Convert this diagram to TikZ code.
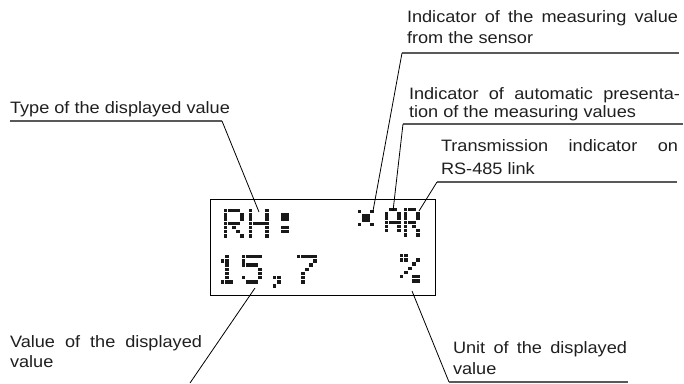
\documentclass[tikz,border=0pt]{standalone}
\usepackage{fontspec}
\setmainfont[FakeStretch=1.1]{Liberation Sans}
\newcommand\lcdg[3]{\foreach \c/\r in {#3}{\fill[lcddot] ({#1+\c*4.1},{#2+\r*4.2}) rectangle ++(3.4,3.4);}}
\begin{document}
\begin{tikzpicture}[x=1pt,y=-1pt,
  lbl/.style={inner sep=0pt, outer sep=0pt, anchor=base west, text=black!88},
  jlbl/.style={lbl, align=justify},
  under/.style={line width=1.2pt, draw=black!65},
  lead/.style={line width=0.8pt, draw=black},
  lcddot/.style={fill=black!90},
  lcdbox/.style={draw=black, line width=1.3pt, inner sep=0pt, minimum width=225pt, minimum height=96pt, anchor=north west}]
\useasboundingbox (0,0) rectangle (684,383);

% display
\node[lcdbox] (lcd) at (210,199) {};
% row 1: RH:  x A R
\lcdg{224}{209}{0/0,1/0,2/0,3/0,0/1,4/1,0/2,4/2,0/3,1/3,2/3,3/3,0/4,2/4,0/5,3/5,0/6,4/6}
\lcdg{249}{209}{0/0,0/1,0/2,0/3,0/4,0/5,0/6,4/0,4/1,4/2,4/3,4/4,4/5,4/6,1/3,2/3,3/3}
\lcdg{277}{209}{1/1,2/1,1/2,2/2,1/4,2/4,1/5,2/5}
\lcdg{358}{210}{0/0,3/0,1/1,2/1,1/2,2/2,0/3,3/3}
\lcdg{385}{208}{1/0,2/0,0/1,3/1,0/2,3/2,0/3,1/3,2/3,3/3,0/4,3/4,0/5,3/5}
\lcdg{404}{208}{0/0,1/0,2/0,0/1,3/1,0/2,3/2,0/3,1/3,2/3,0/4,2/4,0/5,3/5,0/6,3/6}
% row 2: 15,7   %
\lcdg{221}{255}{1/0,0/1,1/1,1/2,1/3,1/4,1/5,0/6,1/6,2/6}
\lcdg{242}{255}{0/0,1/0,2/0,3/0,4/0,0/1,0/2,1/2,2/2,3/2,4/3,4/4,0/5,4/5,1/6,2/6,3/6}
\lcdg{273}{255}{0/5,1/5,1/6,0/7}
\lcdg{297}{255}{0/0,1/0,2/0,3/0,4/0,4/1,3/2,2/3,1/4,1/5,1/6}
\lcdg{400}{254}{0/0,1/0,0/1,1/1,4/1,3/2,2/3,1/4,0/5,3/5,4/5,3/6,4/6}

% labels
\node[lbl, font=\fontsize{16.5}{21}\selectfont] (t1) at (10,113) {Type of the displayed value};
\node[jlbl, text width=271pt, font=\fontsize{16.5}{21.5}\selectfont] (t2) at (407,22)
  {Indicator of the measuring value\linebreak from the sensor};
\node[jlbl, text width=271pt, font=\fontsize{16.5}{18.5}\selectfont] (t3) at (409,99)
  {Indicator of automatic presenta-\linebreak tion of the measuring values};
\node[jlbl, text width=237pt, font=\fontsize{16.5}{23}\selectfont] (t4) at (441,151)
  {Transmission indicator on\linebreak RS-485 link};
\node[jlbl, text width=192pt, font=\fontsize{16.5}{20.5}\selectfont] (t5) at (10,347)
  {Value of the displayed\linebreak value};
\node[jlbl, text width=174pt, font=\fontsize{16.5}{21}\selectfont] (t6) at (453,353)
  {Unit of the displayed\linebreak value};

% leader geometry
\coordinate (u1a) at (10,121);  \coordinate (u1b) at (222,121); \coordinate (p1) at (259,212);
\coordinate (u2a) at (402,53);  \coordinate (u2b) at (679,53);  \coordinate (p2) at (373,211);
\coordinate (u3a) at (403,124); \coordinate (u3b) at (683,124); \coordinate (p3) at (393,211);
\coordinate (u4a) at (437,182); \coordinate (u4b) at (677,182); \coordinate (p4) at (419,211);
\coordinate (p5) at (255,288);  \coordinate (e5) at (190,383);
\coordinate (p6) at (412,291);  \coordinate (u6a) at (449,382); \coordinate (u6b) at (628,382);

\draw[under] (u1a) -- (u1b); \draw[lead] (u1b) -- (p1);
\draw[under] (u2a) -- (u2b); \draw[lead] (u2a) -- (p2);
\draw[under] (u3a) -- (u3b); \draw[lead] (u3a) -- (p3);
\draw[under] (u4a) -- (u4b); \draw[lead] (u4a) -- (p4);
\draw[lead] (p5) -- (e5);
\draw[lead] (p6) -- (u6a); \draw[under] (u6a) -- (u6b);
\end{tikzpicture}
\end{document}
